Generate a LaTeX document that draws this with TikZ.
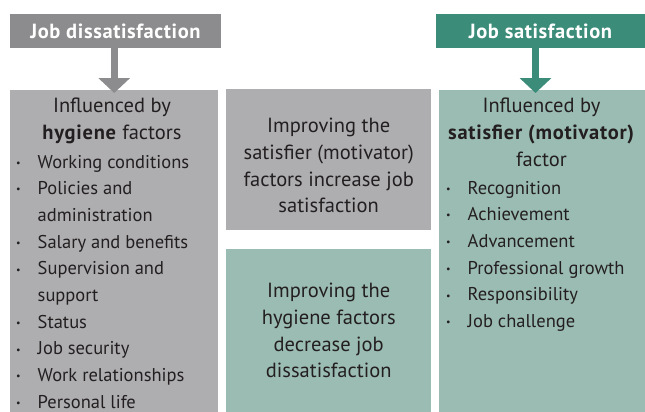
\documentclass[tikz,border=0pt]{standalone}
\usepackage{fontspec}
\setmainfont{PT Sans}
\usetikzlibrary{arrows.meta}

\definecolor{hdrgray}{RGB}{140,140,142}
\definecolor{colgray}{RGB}{174,174,176}
\definecolor{hdrteal}{RGB}{60,140,122}
\definecolor{colteal}{RGB}{155,188,178}
\definecolor{inkdark}{RGB}{35,31,32}

\newcommand{\itemdot}{\raisebox{1.8pt}{\fontsize{10}{10}\selectfont\textbullet}}
\newcommand{\wide}[1]{{\addfontfeature{LetterSpace=3.5}#1}}

\begin{document}
\begin{tikzpicture}[x=1pt,y=-1pt,
  header/.style={minimum height=34pt, inner sep=0pt, text=white,
    font=\fontsize{20.5}{22}\selectfont\bfseries\addfontfeature{LetterSpace=3}},
  panel/.style={anchor=north west, inner sep=0pt, draw=none},
  bodytext/.style={inner sep=0pt, text=inkdark, align=center,
    font=\fontsize{20.5}{26.7}\selectfont},
  listtext/.style={inner sep=0pt, text=inkdark, anchor=base west,
    font=\fontsize{18.5}{26.7}\selectfont},
  bigarrow/.style={line width=7pt, -{Triangle[width=31pt,length=15pt]}}
]
\useasboundingbox (0,0) rectangle (645,412);

% Headers
\node[header, fill=hdrgray, minimum width=211pt] (dissat) at (115.5,31) {Job dissatisfaction};
\node[header, fill=hdrteal, minimum width=209pt] (satis) at (540.5,31) {Job satisfaction};

% Columns
\node[panel, fill=colgray, minimum width=208pt, minimum height=322pt] (hygcol) at (10,90) {};
\node[panel, fill=colgray, minimum width=205pt, minimum height=141pt] (topmid) at (226,89) {};
\node[panel, fill=colteal, minimum width=205pt, minimum height=163pt] (botmid) at (226,249) {};
\node[panel, fill=colteal, minimum width=206pt, minimum height=322pt] (motcol) at (439,90) {};

% Arrows
\draw[bigarrow, hdrgray] (dissat.south -| hygcol.north) -- ([yshift=-3pt]hygcol.north);
\draw[bigarrow, hdrteal] ([xshift=-5pt]satis.south) -- ([xshift=-5pt,yshift=-3pt]satis.south |- motcol.north);

% Column titles (base = last line)
\node[bodytext, anchor=base] (hygtitle) at (112,139) {Influenced by\\\wide{\textbf{hygiene}} factors};
\node[bodytext, anchor=base] (mottitle) at (541.5,166) {Influenced by\\\wide{\textbf{satisfier (motivator)}}\\factor};

% Middle texts
\node[bodytext] (incr) at ([yshift=-6pt]topmid.center) {Improving the\\satisfier (motivator)\\factors increase job\\satisfaction};
\node[bodytext] (decr) at (botmid.center) {Improving the\\hygiene factors\\decrease job\\dissatisfaction};

% Lists
\node[listtext] (hyglist) at (16,168) {%
  \begin{tabular}[t]{@{}l@{\hspace{17pt}}l@{}}
  \itemdot & Working conditions\\
  \itemdot & Policies and\\
           & administration\\
  \itemdot & Salary and benefits\\
  \itemdot & Supervision and\\
           & support\\
  \itemdot & Status\\
  \itemdot & Job security\\
  \itemdot & Work relationships\\
  \itemdot & Personal life
  \end{tabular}};
\node[listtext] (motlist) at (446,194) {%
  \begin{tabular}[t]{@{}l@{\hspace{17pt}}l@{}}
  \itemdot & Recognition\\
  \itemdot & Achievement\\
  \itemdot & Advancement\\
  \itemdot & Professional growth\\
  \itemdot & Responsibility\\
  \itemdot & Job challenge
  \end{tabular}};

\end{tikzpicture}
\end{document}
